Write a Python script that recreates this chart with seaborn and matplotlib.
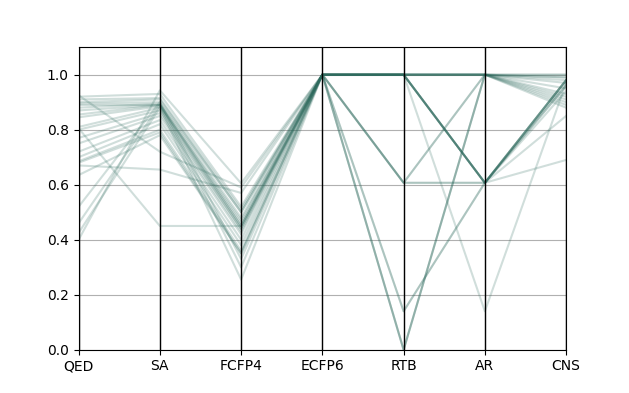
import seaborn as sns
import pandas as pd
import matplotlib.pyplot as plt

# descriptors, one list per axis (25 molecules)
columns = ["QED", "SA", "FCFP4", "ECFP6", "RTB", "AR", "CNS"]

qed = [0.925, 0.92, 0.91, 0.90, 0.895, 0.88, 0.87, 0.855, 0.845, 0.81, 0.805, 0.80, 0.77,
       0.75, 0.72, 0.70, 0.685, 0.68, 0.67, 0.635, 0.52, 0.46, 0.425, 0.40, 0.89]
sa = [0.72, 0.93, 0.915, 0.91, 0.90, 0.895, 0.89, 0.89, 0.885, 0.88, 0.45, 0.87, 0.86,
      0.85, 0.835, 0.82, 0.80, 0.79, 0.655, 0.78, 0.90, 0.89, 0.88, 0.943, 0.89]
fcfp4 = [0.59, 0.52, 0.51, 0.50, 0.50, 0.48, 0.47, 0.46, 0.45, 0.44, 0.45, 0.44, 0.43,
         0.42, 0.40, 0.38, 0.36, 0.35, 0.57, 0.35, 0.33, 0.30, 0.255, 0.605, 0.45]
ecfp6 = [1.0] * 25
rtb = [1.0, 1.0, 1.0, 0.607, 1.0, 1.0, 0.0, 1.0, 1.0, 0.607, 1.0, 0.14, 1.0,
       1.0, 0.607, 1.0, 0.0, 1.0, 1.0, 0.607, 1.0, 0.14, 1.0, 0.0, 1.0]
ar = [1.0, 0.607, 1.0, 1.0, 0.607, 1.0, 1.0, 0.607, 1.0, 0.607, 0.14, 0.607, 1.0,
      0.607, 1.0, 1.0, 1.0, 0.607, 1.0, 0.607, 0.607, 0.607, 1.0, 1.0, 0.607]
cns = [1.0, 0.98, 1.0, 0.99, 0.98, 0.99, 0.97, 0.97, 0.98, 0.98, 0.97, 0.98, 0.95,
       0.96, 0.90, 0.93, 0.92, 0.85, 0.91, 0.94, 0.69, 0.96, 0.88, 0.89, 0.98]

df = pd.DataFrame({"QED": qed, "SA": sa, "FCFP4": fcfp4, "ECFP6": ecfp6,
                   "RTB": rtb, "AR": ar, "CNS": cns})
df["mol"] = range(len(df))
long = df.melt(id_vars="mol", var_name="descriptor", value_name="value")
long["pos"] = long["descriptor"].map({c: i for i, c in enumerate(columns)})

fig, ax = plt.subplots(figsize=(6.29, 3.93), dpi=100)
sns.lineplot(data=long, x="pos", y="value", units="mol", estimator=None, sort=False,
             color="#2d6a5d", alpha=0.22, linewidth=1.5, ax=ax)

for i in range(len(columns)):
    ax.axvline(i, linewidth=1, color="black")
ax.set_xticks(range(len(columns)))
ax.set_xticklabels(columns)
ax.set_xlim(0, len(columns) - 1)
ax.set_ylim(0, 1.1)
ax.grid(True)
ax.set_xlabel("")
ax.set_ylabel("")

plt.savefig("out.png", dpi=100)
